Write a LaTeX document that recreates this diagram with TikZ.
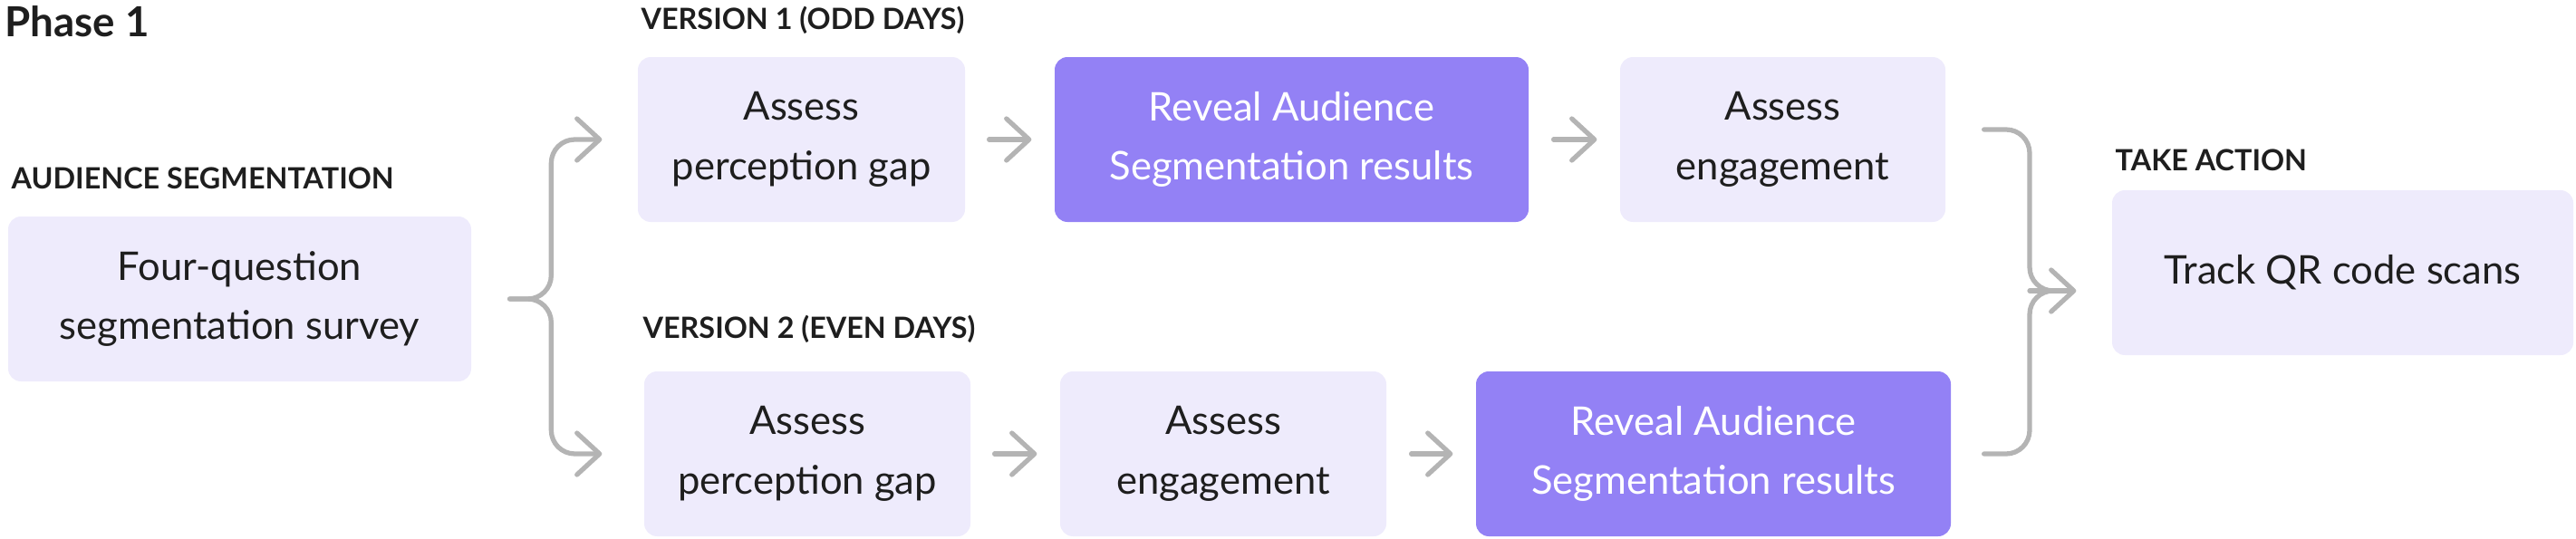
\documentclass[tikz,border=0pt]{standalone}
\usepackage{fontspec}
\setmainfont{Lato}
\usetikzlibrary{arrows.meta, positioning, calc}
\definecolor{clight}{HTML}{EEEBFC}
\definecolor{cpurple}{HTML}{9381F5}
\definecolor{cgrey}{HTML}{B4B4B4}
\definecolor{cink}{HTML}{1E1E1E}
\tikzset{
  every picture/.style={line width=1.5pt},
  box/.style={fill=#1, rounded corners=4pt, align=center, minimum height=1.82cm, inner sep=0pt, text=cink, font=\fontsize{12.4}{18.7}\selectfont},
  box/.default=clight,
  hot/.style={box=cpurple, text=white},
  arrow/.style={-{Straight Barb[length=2.5mm, width=4.6mm, round]}, draw=cgrey, line cap=round, line join=round},
  fork/.style={draw=cgrey, line cap=round, rounded corners=2.6mm},
  title/.style={font=\bfseries\fontsize{13}{16}\selectfont, text=cink, anchor=base west, inner sep=0pt},
  tag/.style={font=\bfseries\fontsize{9.2}{11}\selectfont, text=cink, anchor=base west, inner sep=0pt},
}

\begin{document}
\begin{tikzpicture}
  \useasboundingbox (0,0) rectangle (28.43,5.94);
  \node[title] (phase) at (0.03,5.53) {Phase 1};
  % segmentation
  \node[tag] (segtag) at (0.10,3.86) {AUDIENCE SEGMENTATION};
  \node[box, minimum width=5.11cm] (survey) at (2.645,2.64) {Four-question\\segmentation survey};
  % version 1
  \node[tag] (v1tag) at (7.05,5.61) {VERSION 1 (ODD DAYS)};
  \node[box, minimum width=3.61cm] (gap1) at (8.845,4.40) {Assess\\perception gap};
  \node[hot, minimum width=5.23cm] (reveal1) at (14.255,4.40) {Reveal Audience\\Segmentation results};
  \node[box, minimum width=3.59cm] (eng1) at (19.675,4.40) {Assess\\engagement};
  % version 2
  \node[tag] (v2tag) at (7.07,2.21) {VERSION 2 (EVEN DAYS)};
  \node[box, minimum width=3.60cm] (gap2) at (8.91,0.93) {Assess\\perception gap};
  \node[box, minimum width=3.60cm] (eng2) at (13.50,0.93) {Assess\\engagement};
  \node[hot, minimum width=5.24cm] (reveal2) at (18.91,0.93) {Reveal Audience\\Segmentation results};
  % take action
  \node[tag] (acttag) at (23.32,4.06) {TAKE ACTION};
  \node[box, minimum width=5.09cm] (track) at (25.855,2.93) {Track QR code scans};
  % steps
  \draw[arrow] ([xshift=2.4mm]gap1.east) -- ([xshift=-2.3mm]reveal1.west);
  \draw[arrow] ([xshift=2.5mm]reveal1.east) -- ([xshift=-2.3mm]eng1.west);
  \draw[arrow] ([xshift=2.4mm]gap2.east) -- ([xshift=-2.3mm]eng2.west);
  \draw[arrow] ([xshift=2.5mm]eng2.east) -- ([xshift=-2.3mm]reveal2.west);
  % split
  \draw[fork, arrow] ([xshift=4mm]survey.east) -| ([xshift=-9.3mm]gap1.west) -- ([xshift=-3.7mm]gap1.west);
  \draw[fork, arrow] ([xshift=4mm]survey.east) -| ([xshift=-10mm]gap2.west) -- ([xshift=-4.4mm]gap2.west);
  % merge
  \coordinate (merge) at (22.40,2.73);
  \draw[fork] ([xshift=4mm,yshift=1.1mm]eng1.east) -| (merge) -- ++(0.3,0);
  \draw[fork] ([xshift=3.4mm]reveal2.east) -| (merge) -- ++(0.3,0);
  \draw[arrow] (merge) -- ([xshift=-3.7mm]track.west |- merge);
\end{tikzpicture}
\end{document}
